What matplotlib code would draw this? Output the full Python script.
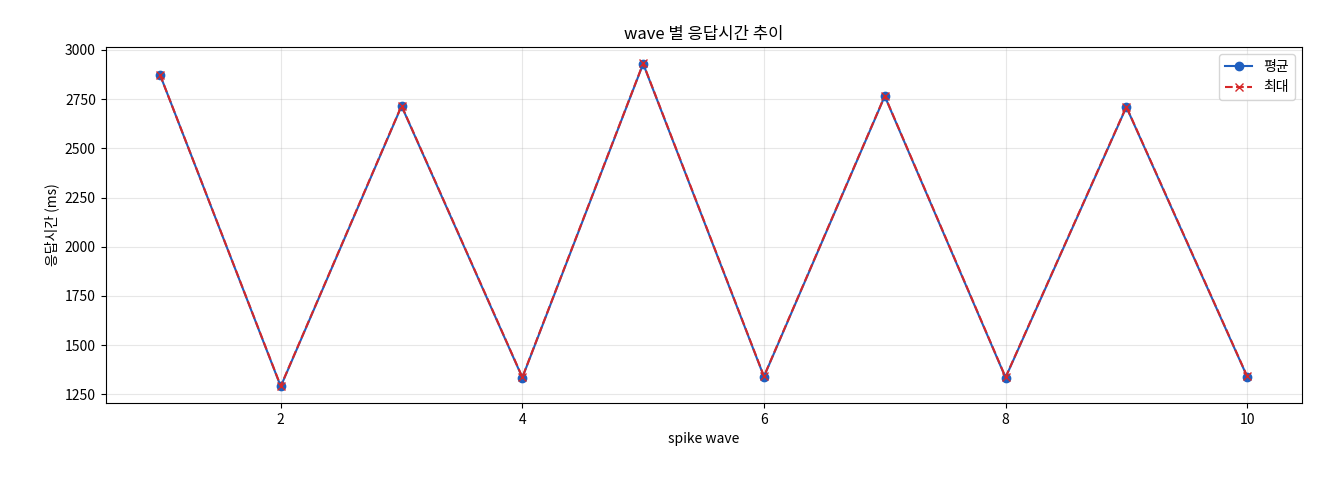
import matplotlib
matplotlib.use("Agg")
import matplotlib.pyplot as plt

plt.rcParams['font.family'] = ['Noto Sans CJK KR', 'DejaVu Sans']

waves = [1, 2, 3, 4, 5, 6, 7, 8, 9, 10]
avg_ms = [2875, 1290, 2715, 1335, 2930, 1340, 2765, 1335, 2710, 1340]
max_ms = [2875, 1292, 2717, 1337, 2932, 1342, 2767, 1337, 2712, 1342]

fig = plt.figure(figsize=(13.2, 4.8), dpi=100)
ax = fig.add_axes([0.080, 0.160, 0.906, 0.742])
ax.plot(waves, avg_ms, marker='o', color='#1f5fbf', label='평균', markersize=6)
ax.plot(waves, max_ms, marker='x', linestyle='--', color='#d62728', label='최대', markersize=6)
ax.set_title('wave 별 응답시간 추이', fontsize=12)
ax.set_xlabel('spike wave', fontsize=10)
ax.set_ylabel('응답시간 (ms)', fontsize=10)
ax.set_ylim(1205, 3015)
ax.set_yticks([1250, 1500, 1750, 2000, 2250, 2500, 2750, 3000])
ax.set_xticks([2, 4, 6, 8, 10])
ax.grid(True, alpha=0.3)
ax.legend(loc='upper right')
fig.savefig('out.png', dpi=100)
